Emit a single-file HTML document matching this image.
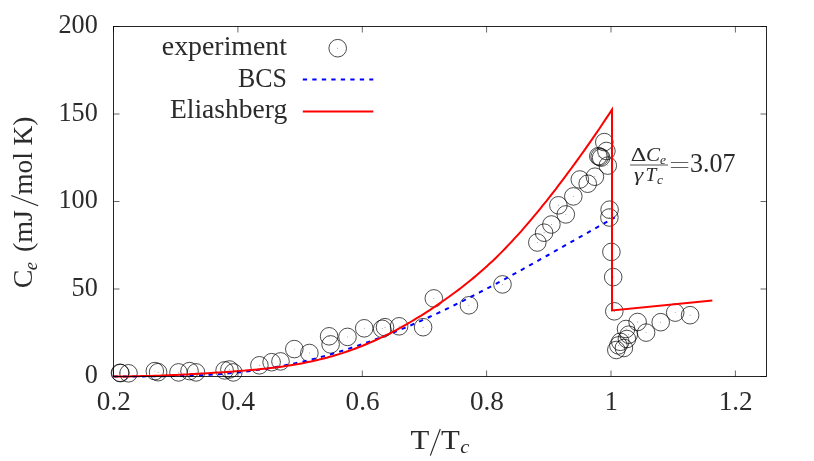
<!DOCTYPE html>
<html><head><meta charset="utf-8"><title>plot</title>
<style>
html,body{margin:0;padding:0;background:#fff;}
body{width:814px;height:461px;overflow:hidden;}
svg{display:block;will-change:transform;}
text{font-family:"Liberation Serif",serif;font-size:28px;fill:#2b2b2b;}
.it{font-style:italic;}
</style></head><body>
<svg width="814" height="461" viewBox="0 0 814 461">
<rect width="814" height="461" fill="#fff"/>
<!-- data circles -->
<g fill="none" stroke="#000" stroke-width="0.7">
<circle cx="120.4" cy="373.1" r="8.8"/>
<circle cx="120.0" cy="372.8" r="8.8"/>
<circle cx="128.5" cy="373.3" r="8.8"/>
<circle cx="154.8" cy="371.1" r="8.8"/>
<circle cx="158.1" cy="372.2" r="8.8"/>
<circle cx="178.5" cy="372.4" r="8.8"/>
<circle cx="189.5" cy="371.1" r="8.8"/>
<circle cx="196" cy="372.4" r="8.8"/>
<circle cx="224.6" cy="370.4" r="8.8"/>
<circle cx="229.4" cy="369.5" r="8.8"/>
<circle cx="233.3" cy="372.4" r="8.8"/>
<circle cx="259.4" cy="365.3" r="8.8"/>
<circle cx="271.6" cy="362.2" r="8.8"/>
<circle cx="280.5" cy="361.4" r="8.8"/>
<circle cx="294.3" cy="349.1" r="8.8"/>
<circle cx="309.4" cy="353" r="8.8"/>
<circle cx="329.1" cy="336.3" r="8.8"/>
<circle cx="330.6" cy="344.4" r="8.8"/>
<circle cx="347.5" cy="336.9" r="8.8"/>
<circle cx="364.2" cy="328.3" r="8.8"/>
<circle cx="382.2" cy="328.8" r="8.8"/>
<circle cx="385" cy="327.2" r="8.8"/>
<circle cx="399.1" cy="326.3" r="8.8"/>
<circle cx="423.1" cy="327.2" r="8.8"/>
<circle cx="433.8" cy="298.4" r="8.8"/>
<circle cx="468.9" cy="305.3" r="8.8"/>
<circle cx="502.5" cy="284.4" r="8.8"/>
<circle cx="537.3" cy="242.5" r="8.8"/>
<circle cx="544.1" cy="232.7" r="8.8"/>
<circle cx="551.4" cy="224.5" r="8.8"/>
<circle cx="558.4" cy="205.3" r="8.8"/>
<circle cx="565.8" cy="214.4" r="8.8"/>
<circle cx="573.3" cy="196.4" r="8.8"/>
<circle cx="579.8" cy="179.5" r="8.8"/>
<circle cx="587.7" cy="183.7" r="8.8"/>
<circle cx="594.9" cy="176.7" r="8.8"/>
<circle cx="604.3" cy="142.1" r="8.8"/>
<circle cx="606.4" cy="151" r="8.8"/>
<circle cx="598.3" cy="156.2" r="8.8"/>
<circle cx="599.7" cy="156.8" r="8.8"/>
<circle cx="601.1" cy="157.6" r="8.8"/>
<circle cx="607.8" cy="165.6" r="8.8"/>
<circle cx="609.6" cy="209.7" r="8.8"/>
<circle cx="609.4" cy="217.5" r="8.8"/>
<circle cx="611.4" cy="251.9" r="8.8"/>
<circle cx="613.2" cy="277.1" r="8.8"/>
<circle cx="614.3" cy="311.3" r="8.8"/>
<circle cx="637.6" cy="322" r="8.8"/>
<circle cx="626" cy="329" r="8.8"/>
<circle cx="628.7" cy="334.7" r="8.8"/>
<circle cx="626.9" cy="339" r="8.8"/>
<circle cx="620.3" cy="341.8" r="8.8"/>
<circle cx="618.4" cy="345.4" r="8.8"/>
<circle cx="623.9" cy="348" r="8.8"/>
<circle cx="616.3" cy="350" r="8.8"/>
<circle cx="646.1" cy="332.6" r="8.8"/>
<circle cx="660.7" cy="322.2" r="8.8"/>
<circle cx="675.2" cy="312.6" r="8.8"/>
<circle cx="690.1" cy="315.2" r="8.8"/>
<circle cx="337.7" cy="48.2" r="8.8"/>
</g>
<g fill="#555" stroke="none">
<circle cx="120.4" cy="373.1" r="0.45"/>
<circle cx="120.0" cy="372.8" r="0.45"/>
<circle cx="128.5" cy="373.3" r="0.45"/>
<circle cx="154.8" cy="371.1" r="0.45"/>
<circle cx="158.1" cy="372.2" r="0.45"/>
<circle cx="178.5" cy="372.4" r="0.45"/>
<circle cx="189.5" cy="371.1" r="0.45"/>
<circle cx="196" cy="372.4" r="0.45"/>
<circle cx="224.6" cy="370.4" r="0.45"/>
<circle cx="229.4" cy="369.5" r="0.45"/>
<circle cx="233.3" cy="372.4" r="0.45"/>
<circle cx="259.4" cy="365.3" r="0.45"/>
<circle cx="271.6" cy="362.2" r="0.45"/>
<circle cx="280.5" cy="361.4" r="0.45"/>
<circle cx="294.3" cy="349.1" r="0.45"/>
<circle cx="309.4" cy="353" r="0.45"/>
<circle cx="329.1" cy="336.3" r="0.45"/>
<circle cx="330.6" cy="344.4" r="0.45"/>
<circle cx="347.5" cy="336.9" r="0.45"/>
<circle cx="364.2" cy="328.3" r="0.45"/>
<circle cx="382.2" cy="328.8" r="0.45"/>
<circle cx="385" cy="327.2" r="0.45"/>
<circle cx="399.1" cy="326.3" r="0.45"/>
<circle cx="423.1" cy="327.2" r="0.45"/>
<circle cx="433.8" cy="298.4" r="0.45"/>
<circle cx="468.9" cy="305.3" r="0.45"/>
<circle cx="502.5" cy="284.4" r="0.45"/>
<circle cx="537.3" cy="242.5" r="0.45"/>
<circle cx="544.1" cy="232.7" r="0.45"/>
<circle cx="551.4" cy="224.5" r="0.45"/>
<circle cx="558.4" cy="205.3" r="0.45"/>
<circle cx="565.8" cy="214.4" r="0.45"/>
<circle cx="573.3" cy="196.4" r="0.45"/>
<circle cx="579.8" cy="179.5" r="0.45"/>
<circle cx="587.7" cy="183.7" r="0.45"/>
<circle cx="594.9" cy="176.7" r="0.45"/>
<circle cx="604.3" cy="142.1" r="0.45"/>
<circle cx="606.4" cy="151" r="0.45"/>
<circle cx="598.3" cy="156.2" r="0.45"/>
<circle cx="599.7" cy="156.8" r="0.45"/>
<circle cx="601.1" cy="157.6" r="0.45"/>
<circle cx="607.8" cy="165.6" r="0.45"/>
<circle cx="609.6" cy="209.7" r="0.45"/>
<circle cx="609.4" cy="217.5" r="0.45"/>
<circle cx="611.4" cy="251.9" r="0.45"/>
<circle cx="613.2" cy="277.1" r="0.45"/>
<circle cx="614.3" cy="311.3" r="0.45"/>
<circle cx="637.6" cy="322" r="0.45"/>
<circle cx="626" cy="329" r="0.45"/>
<circle cx="628.7" cy="334.7" r="0.45"/>
<circle cx="626.9" cy="339" r="0.45"/>
<circle cx="620.3" cy="341.8" r="0.45"/>
<circle cx="618.4" cy="345.4" r="0.45"/>
<circle cx="623.9" cy="348" r="0.45"/>
<circle cx="616.3" cy="350" r="0.45"/>
<circle cx="646.1" cy="332.6" r="0.45"/>
<circle cx="660.7" cy="322.2" r="0.45"/>
<circle cx="675.2" cy="312.6" r="0.45"/>
<circle cx="690.1" cy="315.2" r="0.45"/>
<circle cx="337.7" cy="48.2" r="0.45"/>
</g>
<!-- BCS -->
<path d="M113.5,376.4 L117.7,376.4 L121.9,376.4 L126.1,376.4 L130.4,376.4 L134.6,376.4 L138.8,376.4 L143.0,376.4 L147.2,376.3 L151.4,376.3 L155.6,376.3 L159.8,376.3 L164.1,376.3 L168.3,376.2 L172.5,376.1 L176.7,376.1 L180.9,376.0 L185.1,375.9 L189.3,375.7 L193.5,375.6 L197.8,375.4 L202.0,375.2 L206.2,375.0 L210.4,374.7 L214.6,374.5 L218.8,374.2 L223.0,373.9 L227.2,373.5 L231.5,373.1 L235.7,372.7 L239.9,372.3 L244.1,371.8 L248.3,371.3 L252.5,370.7 L256.7,370.1 L260.9,369.5 L265.2,368.9 L269.4,368.2 L273.6,367.5 L277.8,366.7 L282.0,366.0 L286.2,365.1 L290.4,364.3 L294.6,363.4 L298.9,362.4 L303.1,361.5 L307.3,360.5 L311.5,359.4 L315.7,358.4 L319.9,357.3 L324.1,356.1 L328.3,354.9 L332.6,353.7 L336.8,352.5 L341.0,351.2 L345.2,349.9 L349.4,348.5 L353.6,347.1 L357.8,345.7 L362.0,344.3 L366.3,342.8 L370.5,341.3 L374.7,339.7 L378.9,338.1 L383.1,336.5 L387.3,334.9 L391.5,333.2 L395.7,331.5 L400.0,329.8 L404.2,328.1 L408.4,326.3 L412.6,324.5 L416.8,322.6 L421.0,320.8 L425.2,318.9 L429.4,317.0 L433.7,315.0 L437.9,313.1 L442.1,311.1 L446.3,309.1 L450.5,307.0 L454.7,305.0 L458.9,302.9 L463.1,300.8 L467.4,298.7 L471.6,296.5 L475.8,294.4 L480.0,292.2 L484.2,290.0 L488.4,287.8 L492.6,285.6 L496.8,283.3 L501.1,281.1 L505.3,278.8 L509.5,276.5 L513.7,274.2 L517.9,271.9 L522.1,269.6 L526.3,267.3 L530.5,264.9 L534.8,262.6 L539.0,260.2 L543.2,257.8 L547.4,255.5 L551.6,253.1 L555.8,250.7 L560.0,248.3 L564.2,245.9 L568.5,243.5 L572.7,241.1 L576.9,238.8 L581.1,236.4 L585.3,234.0 L589.5,231.6 L593.7,229.2 L597.9,226.8 L602.2,224.5 L606.4,222.1 L610.6,219.7 L614.8,217.4" fill="none" stroke="#0000ff" stroke-width="2" stroke-dasharray="4.3 5.2"/>
<!-- Eliashberg -->
<path d="M113.5,376.3 L116.6,376.4 L119.8,376.4 L122.9,376.4 L126.0,376.4 L129.2,376.4 L132.3,376.3 L135.4,376.3 L138.6,376.2 L141.7,376.1 L144.9,376.1 L148.0,376.0 L151.1,375.9 L154.3,375.8 L157.4,375.7 L160.5,375.6 L163.7,375.4 L166.8,375.3 L169.9,375.2 L173.1,375.0 L176.2,374.9 L179.3,374.7 L182.5,374.6 L185.6,374.4 L188.7,374.3 L191.9,374.1 L195.0,373.9 L198.2,373.8 L201.3,373.6 L204.4,373.4 L207.6,373.2 L210.7,373.0 L213.8,372.8 L217.0,372.6 L220.1,372.4 L223.2,372.2 L226.4,372.0 L229.5,371.8 L232.6,371.6 L235.8,371.3 L238.9,371.1 L242.0,370.8 L245.2,370.6 L248.3,370.3 L251.4,370.0 L254.6,369.7 L257.7,369.4 L260.9,369.1 L264.0,368.8 L267.1,368.5 L270.3,368.1 L273.4,367.7 L276.5,367.3 L279.7,366.9 L282.8,366.5 L285.9,366.0 L289.1,365.5 L292.2,365.0 L295.3,364.5 L298.5,364.0 L301.6,363.4 L304.7,362.8 L307.9,362.1 L311.0,361.5 L314.2,360.8 L317.3,360.1 L320.4,359.3 L323.6,358.5 L326.7,357.7 L329.8,356.8 L333.0,356.0 L336.1,355.0 L339.2,354.1 L342.4,353.1 L345.5,352.0 L348.6,351.0 L351.8,349.9 L354.9,348.7 L358.0,347.5 L361.2,346.3 L364.3,345.0 L367.5,343.7 L370.6,342.4 L373.7,341.0 L376.9,339.6 L380.0,338.2 L383.1,336.7 L386.3,335.1 L389.4,333.6 L392.5,332.0 L395.7,330.3 L398.8,328.6 L401.9,326.9 L405.1,325.1 L408.2,323.3 L411.3,321.5 L414.5,319.6 L417.6,317.7 L420.8,315.8 L423.9,313.8 L427.0,311.8 L430.2,309.8 L433.3,307.7 L436.4,305.6 L439.6,303.4 L442.7,301.2 L445.8,299.0 L449.0,296.8 L452.1,294.5 L455.2,292.2 L458.4,289.9 L461.5,287.5 L464.6,285.0 L467.8,282.5 L470.9,280.0 L474.1,277.4 L477.2,274.8 L480.3,272.1 L483.5,269.3 L486.6,266.5 L489.7,263.6 L492.9,260.7 L496.0,257.7 L499.1,254.6 L502.3,251.4 L505.4,248.2 L508.5,244.9 L511.7,241.6 L514.8,238.2 L517.9,234.8 L521.1,231.3 L524.2,227.7 L527.3,224.1 L530.5,220.4 L533.6,216.7 L536.8,212.9 L539.9,209.1 L543.0,205.2 L546.2,201.3 L549.3,197.3 L552.4,193.3 L555.6,189.3 L558.7,185.2 L561.8,181.1 L565.0,176.9 L568.1,172.7 L571.2,168.5 L574.4,164.2 L577.5,159.8 L580.6,155.5 L583.8,151.1 L586.9,146.6 L590.1,142.1 L593.2,137.6 L596.3,133.1 L599.5,128.5 L602.6,123.8 L605.7,119.1 L608.9,114.4 L612.0,109.6 L612,310.5 L712.3,300.4" fill="none" stroke="#ff0000" stroke-width="2" stroke-linejoin="miter" stroke-miterlimit="10"/>
<!-- legend samples -->
<path d="M302.8,79.5 H373.3" fill="none" stroke="#0000ff" stroke-width="2" stroke-dasharray="4.3 5.2"/>
<path d="M302.8,111.4 H373.3" fill="none" stroke="#ff0000" stroke-width="2"/>
<!-- axes -->
<rect x="113.5" y="26.5" width="653.0" height="350.0" fill="none" stroke="#000" stroke-width="0.85"/>
<g stroke="#000" stroke-width="0.6" fill="none">
<path d="M113.5,376.5 V370.5 M113.5,26.5 V32.5"/>
<path d="M237.9,376.5 V370.5 M237.9,26.5 V32.5"/>
<path d="M362.3,376.5 V370.5 M362.3,26.5 V32.5"/>
<path d="M486.6,376.5 V370.5 M486.6,26.5 V32.5"/>
<path d="M611.0,376.5 V370.5 M611.0,26.5 V32.5"/>
<path d="M735.4,376.5 V370.5 M735.4,26.5 V32.5"/>
<path d="M113.5,376.5 H119.5 M766.5,376.5 H760.5"/>
<path d="M113.5,289.0 H119.5 M766.5,289.0 H760.5"/>
<path d="M113.5,201.5 H119.5 M766.5,201.5 H760.5"/>
<path d="M113.5,114.0 H119.5 M766.5,114.0 H760.5"/>
<path d="M113.5,26.5 H119.5 M766.5,26.5 H760.5"/>
</g>
<!-- tick labels -->
<text transform="translate(113.8,409.6) scale(0.985,1)" style="font-size:27.6px" text-anchor="middle">0.2</text>
<text transform="translate(238.2,409.6) scale(0.985,1)" style="font-size:27.6px" text-anchor="middle">0.4</text>
<text transform="translate(362.6,409.6) scale(0.985,1)" style="font-size:27.6px" text-anchor="middle">0.6</text>
<text transform="translate(486.9,409.6) scale(0.985,1)" style="font-size:27.6px" text-anchor="middle">0.8</text>
<text transform="translate(611.3,409.6) scale(0.95,1)" style="font-size:27.6px" text-anchor="middle">1</text>
<text transform="translate(735.7,409.6) scale(0.985,1)" style="font-size:27.6px" text-anchor="middle">1.2</text>
<text transform="translate(97.8,383.1) scale(0.95,1)" style="font-size:27.6px" text-anchor="end">0</text>
<text transform="translate(97.8,295.6) scale(0.95,1)" style="font-size:27.6px" text-anchor="end">50</text>
<text transform="translate(97.8,208.1) scale(0.95,1)" style="font-size:27.6px" text-anchor="end">100</text>
<text transform="translate(97.8,120.6) scale(0.95,1)" style="font-size:27.6px" text-anchor="end">150</text>
<text transform="translate(97.8,33.1) scale(0.95,1)" style="font-size:27.6px" text-anchor="end">200</text>

<!-- legend text -->
<text transform="translate(287,54.6) scale(0.994,1)" style="font-size:28px" text-anchor="end">experiment</text>
<text transform="translate(287,86.5) scale(0.925,1)" style="font-size:28px" text-anchor="end">BCS</text>
<text transform="translate(287.3,118.3) scale(0.985,1)" style="font-size:28px" text-anchor="end">Eliashberg</text>

<!-- axis labels -->
<text transform="translate(410.6,448.5) scale(1.1,1)" style="font-size:28px" text-anchor="start">T</text>
<text transform="translate(441.1,448.5) scale(1.1,1)" style="font-size:28px" text-anchor="start">T</text>
<path d="M430.3,455.6 L440.3,429" stroke="#222" stroke-width="1.1" fill="none"/>
<text transform="translate(460.3,453) scale(1.05,1)" style="font-size:19.5px" text-anchor="start" class="it">c</text>

<g transform="translate(32,288) rotate(-90)">
<text transform="translate(-0.3,0) scale(1.0,1)" style="font-size:28px" text-anchor="start">C</text>
<text transform="translate(17.8,4.6) scale(0.95,1)" style="font-size:19.5px" text-anchor="start" class="it">e</text>
<text transform="translate(36.0,0) scale(1.0,1)" style="font-size:28px" text-anchor="start">(mJ</text>
<path d="M82.3,6.2 L92.4,-20.7" stroke="#222" stroke-width="1.1" fill="none"/><text transform="translate(93.2,0) scale(0.977,1)" style="font-size:28px" text-anchor="start">mol K)</text>

</g>
<!-- annotation -->
<g>
<text transform="translate(630.8,160.7) scale(1.24,1)" style="font-size:19.5px" text-anchor="start">Δ</text>
<text transform="translate(646,160.7) scale(1.08,1)" style="font-size:19.5px" text-anchor="start" class="it">C</text>
<text transform="translate(660,164.2) scale(1.0,1)" style="font-size:13.5px" text-anchor="start" class="it">e</text>

<path d="M630,165 H668" stroke="#555" stroke-width="1.2"/>
<text transform="translate(634,180.8) scale(1.2,1)" style="font-size:19.5px" text-anchor="start" class="it">γ</text>
<text transform="translate(645.5,180.8) scale(1.0,1)" style="font-size:19.5px" text-anchor="start" class="it">T</text>
<text transform="translate(657,184) scale(1.0,1)" style="font-size:13.5px" text-anchor="start" class="it">c</text>

<path d="M670.9,162.5 H688.3 M670.9,167.5 H688.3" stroke="#000" stroke-width="0.62"/>
<text transform="translate(690,172.2) scale(0.93,1)" style="font-size:28px" text-anchor="start">3.07</text>

</g>
</svg>
</body></html>
